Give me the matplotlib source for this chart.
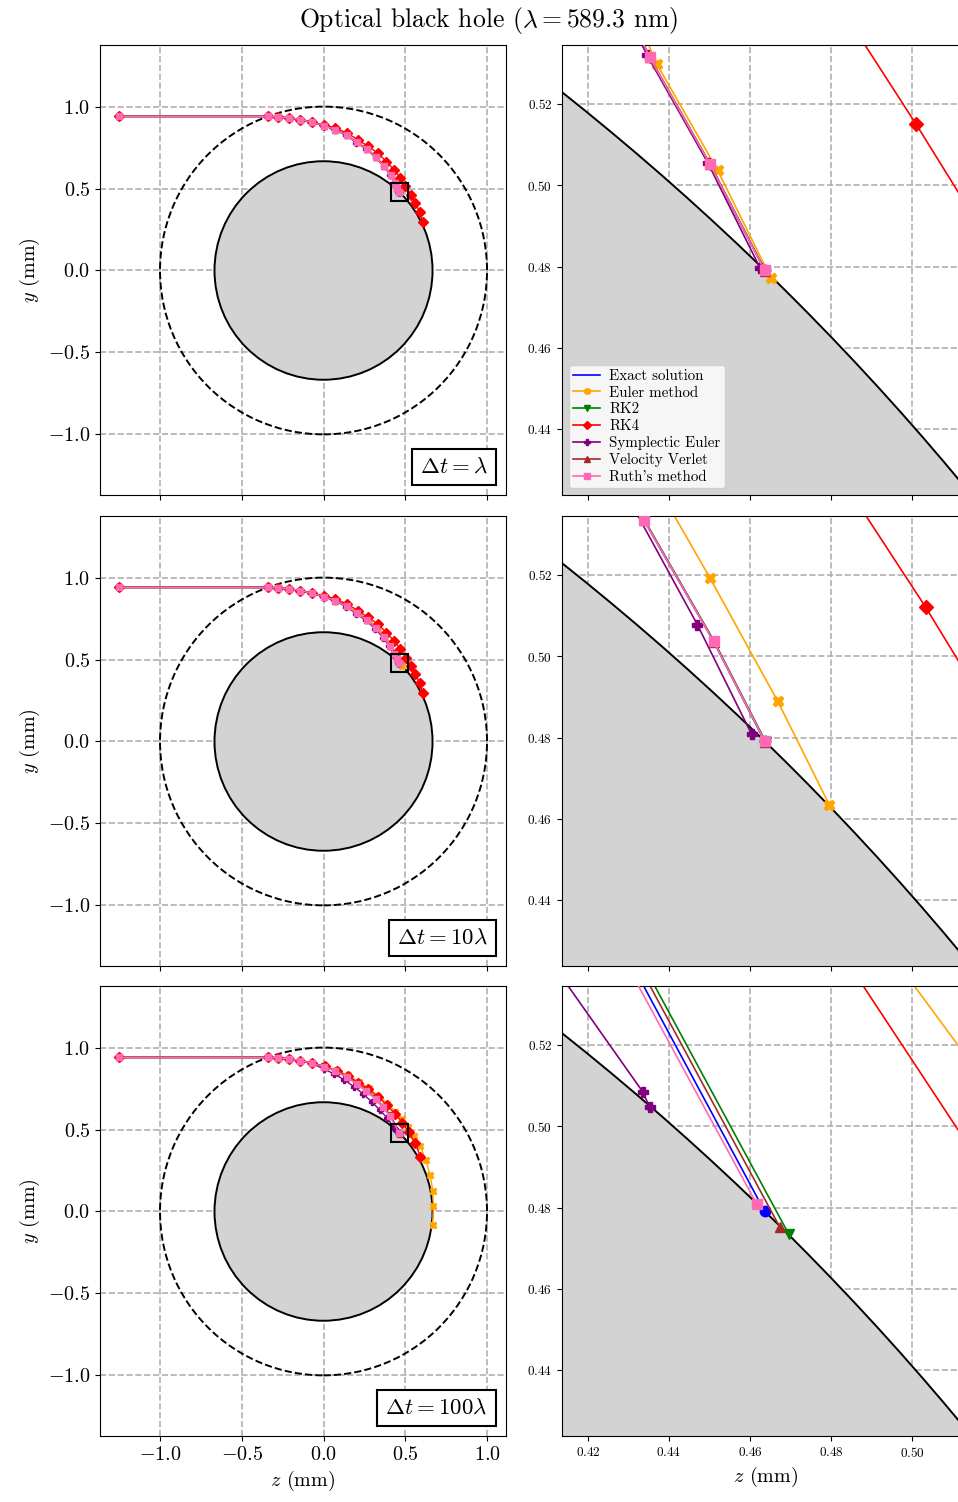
import numpy as np
import matplotlib.pyplot as plt
from matplotlib.patches import Circle, Rectangle
from matplotlib.offsetbox import AnchoredText

plt.rcParams['font.family'] = 'serif'
plt.rcParams['font.serif'] = ['cmr10']
plt.rcParams['mathtext.fontset'] = 'cm'
plt.rcParams['axes.formatter.use_mathtext'] = True

R_OUT = 1.0        # edge of the medium
R_CORE = 0.6667    # absorbing core
ZOOM_Z = (0.4136, 0.5143)
ZOOM_Y = (0.4238, 0.5345)

STEP_LABELS = [r'$\Delta t = \lambda$', r'$\Delta t = 10\lambda$', r'$\Delta t = 100\lambda$']
METHODS = ['Exact solution', 'Euler method', 'RK2', 'RK4',
           'Symplectic Euler', 'Velocity Verlet', "Ruth's method"]
COLORS = ['blue', 'orange', 'green', 'red', 'purple', 'brown', 'hotpink']
MARKERS = [None, 'X', 'v', 'D', 'P', '^', 's']

# free flight up to the medium, then the first few samples (same for all)
head_z = [-1.25, -0.341, -0.280, -0.212, -0.141, -0.069]
head_y = [0.940, 0.940, 0.937, 0.931, 0.921, 0.904]

# ---- dt = lambda ----
exact1_z = [0.002, 0.073, 0.141, 0.202, 0.263, 0.322, 0.369, 0.410, 0.4352, 0.4501, 0.4636]
exact1_y = [0.884, 0.860, 0.825, 0.782, 0.742, 0.691, 0.636, 0.585, 0.5315, 0.5052, 0.4791]
euler1_z = [0.003, 0.074, 0.142, 0.204, 0.265, 0.324, 0.372, 0.413, 0.4370, 0.4520, 0.4651]
euler1_y = [0.885, 0.861, 0.827, 0.785, 0.745, 0.694, 0.639, 0.586, 0.5298, 0.5037, 0.4773]
rk2_1_z = [0.002, 0.073, 0.141, 0.202, 0.263, 0.322, 0.369, 0.410, 0.4353, 0.4502, 0.4638]
rk2_1_y = [0.884, 0.860, 0.825, 0.782, 0.742, 0.691, 0.636, 0.585, 0.5314, 0.5051, 0.4789]
rk4_1_z = [0.005, 0.073, 0.141, 0.210, 0.271, 0.332, 0.385, 0.432, 0.468, 0.501, 0.534, 0.562, 0.589, 0.607]
rk4_1_y = [0.887, 0.870, 0.840, 0.799, 0.758, 0.717, 0.663, 0.614, 0.566, 0.515, 0.462, 0.410, 0.355, 0.295]
symp1_z = [0.002, 0.072, 0.140, 0.201, 0.262, 0.321, 0.368, 0.409, 0.4346, 0.4496, 0.4625]
symp1_y = [0.883, 0.859, 0.824, 0.781, 0.741, 0.690, 0.635, 0.584, 0.5320, 0.5055, 0.4796]
verlet1_z = [0.002, 0.073, 0.141, 0.202, 0.263, 0.322, 0.369, 0.410, 0.4352, 0.4501, 0.4637]
verlet1_y = [0.884, 0.860, 0.825, 0.782, 0.742, 0.691, 0.636, 0.585, 0.5315, 0.5052, 0.4790]
ruth1_z = [0.002, 0.073, 0.141, 0.202, 0.263, 0.322, 0.369, 0.410, 0.4352, 0.4501, 0.4636]
ruth1_y = [0.884, 0.860, 0.825, 0.782, 0.742, 0.691, 0.636, 0.585, 0.5315, 0.5052, 0.4791]

# ---- dt = 10 lambda ----
exact2_z = [0.002, 0.073, 0.141, 0.202, 0.263, 0.322, 0.369, 0.405, 0.4338, 0.4510, 0.4636]
exact2_y = [0.884, 0.860, 0.825, 0.782, 0.742, 0.691, 0.636, 0.583, 0.5335, 0.5037, 0.4791]
euler2_z = [0.003, 0.075, 0.144, 0.207, 0.269, 0.330, 0.378, 0.405, 0.433, 0.4501, 0.4668, 0.4796]
euler2_y = [0.886, 0.862, 0.828, 0.787, 0.748, 0.698, 0.647, 0.600, 0.549, 0.5193, 0.4890, 0.4634]
rk2_2_z = [0.002, 0.073, 0.141, 0.202, 0.263, 0.322, 0.369, 0.405, 0.4340, 0.4512, 0.4639]
rk2_2_y = [0.884, 0.860, 0.825, 0.782, 0.742, 0.691, 0.636, 0.583, 0.5334, 0.5036, 0.4789]
rk4_2_z = [0.005, 0.073, 0.141, 0.210, 0.271, 0.332, 0.385, 0.432, 0.468, 0.5034, 0.534, 0.562, 0.589, 0.607]
rk4_2_y = [0.887, 0.870, 0.840, 0.799, 0.758, 0.717, 0.663, 0.614, 0.566, 0.5120, 0.462, 0.410, 0.355, 0.295]
symp2_z = [0.001, 0.071, 0.138, 0.199, 0.259, 0.317, 0.365, 0.403, 0.431, 0.4470, 0.4604]
symp2_y = [0.883, 0.858, 0.823, 0.780, 0.739, 0.688, 0.632, 0.580, 0.537, 0.5078, 0.4808]
verlet2_z = [0.002, 0.073, 0.141, 0.202, 0.263, 0.322, 0.369, 0.405, 0.4339, 0.4511, 0.4637]
verlet2_y = [0.884, 0.860, 0.825, 0.782, 0.742, 0.691, 0.636, 0.583, 0.5335, 0.5036, 0.4790]
ruth2_z = [0.002, 0.073, 0.141, 0.202, 0.263, 0.322, 0.369, 0.405, 0.4338, 0.4510, 0.4636]
ruth2_y = [0.884, 0.860, 0.825, 0.782, 0.742, 0.691, 0.636, 0.583, 0.5335, 0.5037, 0.4792]

# ---- dt = 100 lambda ----
exact3_z = [0.002, 0.073, 0.141, 0.202, 0.262, 0.318, 0.365, 0.406, 0.4636]
exact3_y = [0.884, 0.858, 0.822, 0.779, 0.737, 0.688, 0.636, 0.586, 0.4791]
euler3_z = [0.010, 0.080, 0.150, 0.215, 0.278, 0.335, 0.390, 0.440, 0.478, 0.515, 0.552,
            0.593, 0.626, 0.652, 0.668, 0.672, 0.667]
euler3_y = [0.887, 0.862, 0.830, 0.793, 0.752, 0.707, 0.658, 0.610, 0.565, 0.515, 0.462,
            0.398, 0.313, 0.222, 0.128, 0.033, -0.085]
rk2_3_z = [0.003, 0.074, 0.142, 0.203, 0.264, 0.320, 0.367, 0.4075, 0.4696]
rk2_3_y = [0.885, 0.859, 0.823, 0.781, 0.739, 0.690, 0.638, 0.588, 0.4734]
rk4_3_z = [0.010, 0.080, 0.148, 0.213, 0.275, 0.333, 0.388, 0.438, 0.483, 0.522, 0.559, 0.593]
rk4_3_y = [0.885, 0.858, 0.825, 0.787, 0.745, 0.699, 0.648, 0.595, 0.542, 0.483, 0.420, 0.335]
symp3_z = [0.000, 0.065, 0.127, 0.186, 0.242, 0.294, 0.343, 0.390, 0.4335, 0.4352]
symp3_y = [0.870, 0.840, 0.803, 0.762, 0.718, 0.670, 0.621, 0.570, 0.5085, 0.5048]
verlet3_z = [0.003, 0.074, 0.142, 0.203, 0.263, 0.319, 0.366, 0.407, 0.4674]
verlet3_y = [0.885, 0.859, 0.823, 0.780, 0.738, 0.689, 0.637, 0.587, 0.4751]
ruth3_z = [0.002, 0.073, 0.141, 0.202, 0.262, 0.318, 0.365, 0.405, 0.4617]
ruth3_y = [0.884, 0.858, 0.822, 0.779, 0.737, 0.688, 0.636, 0.585, 0.4808]

runs = [
    [(exact1_z, exact1_y), (euler1_z, euler1_y), (rk2_1_z, rk2_1_y), (rk4_1_z, rk4_1_y),
     (symp1_z, symp1_y), (verlet1_z, verlet1_y), (ruth1_z, ruth1_y)],
    [(exact2_z, exact2_y), (euler2_z, euler2_y), (rk2_2_z, rk2_2_y), (rk4_2_z, rk4_2_y),
     (symp2_z, symp2_y), (verlet2_z, verlet2_y), (ruth2_z, ruth2_y)],
    [(exact3_z, exact3_y), (euler3_z, euler3_y), (rk2_3_z, rk2_3_y), (rk4_3_z, rk4_3_y),
     (symp3_z, symp3_y), (verlet3_z, verlet3_y), (ruth3_z, ruth3_y)],
]


def draw_medium(ax, lw=1.4):
    ax.add_patch(Circle((0, 0), R_OUT, fill=False, ec='black', ls='--', lw=lw, zorder=1.5))
    ax.add_patch(Circle((0, 0), R_CORE, fc='lightgray', ec='black', lw=lw, zorder=1.5))


def draw_paths(ax, paths, ms, lw):
    for k, (pz, py) in enumerate(paths):
        z = np.array(head_z + pz)
        y = np.array(head_y + py)
        if MARKERS[k] is None:
            ax.plot(z, y, color=COLORS[k], lw=lw, label=METHODS[k], zorder=2)
            ax.plot(z[-1:], y[-1:], 'o', color=COLORS[k], ms=ms, zorder=2)
        else:
            ax.plot(z, y, color=COLORS[k], lw=lw, marker=MARKERS[k], ms=ms,
                    label=METHODS[k], zorder=2 + 0.1 * k)


fig = plt.figure(figsize=(9.58, 15.02), dpi=100)
W, H = 958, 1502
rows_top = [45, 516, 986]

for i in range(3):
    top = rows_top[i]
    ax = fig.add_axes([100 / W, 1 - (top + 450) / H, 406 / W, 450 / H])
    axz = fig.add_axes([562 / W, 1 - (top + 450) / H, 408 / W, 450 / H])

    for a in (ax, axz):
        a.set_axisbelow(True)
        a.grid(True, color='#b0b0b0', ls='--', lw=1.2)
        draw_medium(a)

    draw_paths(ax, runs[i], ms=5, lw=1.0)
    draw_paths(axz, runs[i], ms=7.5, lw=1.2)

    ax.add_patch(Rectangle((ZOOM_Z[0], ZOOM_Y[0]), ZOOM_Z[1] - ZOOM_Z[0], ZOOM_Y[1] - ZOOM_Y[0],
                           fill=False, ec='black', lw=1.5, zorder=6))

    ax.set_xlim(-1.367, 1.116)
    ax.set_ylim(-1.37, 1.376)
    ax.set_xticks([-1.0, -0.5, 0.0, 0.5, 1.0])
    ax.set_yticks([-1.0, -0.5, 0.0, 0.5, 1.0])
    ax.tick_params(labelsize=14.5)
    ax.set_ylabel(r'$y$ (mm)', fontsize=14.5)

    axz.set_xlim(*ZOOM_Z)
    axz.set_ylim(*ZOOM_Y)
    axz.set_xticks([0.42, 0.44, 0.46, 0.48, 0.50])
    axz.set_yticks([0.44, 0.46, 0.48, 0.50, 0.52])
    axz.tick_params(labelsize=9.5)

    box = AnchoredText(STEP_LABELS[i], loc='lower right', prop=dict(size=16.5),
                       frameon=True, borderpad=0.45, pad=0.35)
    box.patch.set_boxstyle('square,pad=0')
    box.patch.set_linewidth(1.5)
    ax.add_artist(box)

    if i < 2:
        ax.tick_params(labelbottom=False)
        axz.tick_params(labelbottom=False)
    else:
        ax.set_xlabel(r'$z$ (mm)', fontsize=14.5)
        axz.set_xlabel(r'$z$ (mm)', fontsize=14.5)

    if i == 0:
        axz.legend(loc='lower left', fontsize=10.8, markerscale=0.55,
                   handlelength=1.8, borderpad=0.3, labelspacing=0.2,
                   handletextpad=0.6, borderaxespad=0.45)

fig.suptitle(r'Optical black hole ($\lambda = 589.3$ nm)', x=489 / W, y=1 - 20 / H,
             va='center', fontsize=18.5)

fig.savefig('out.png', dpi=100)
